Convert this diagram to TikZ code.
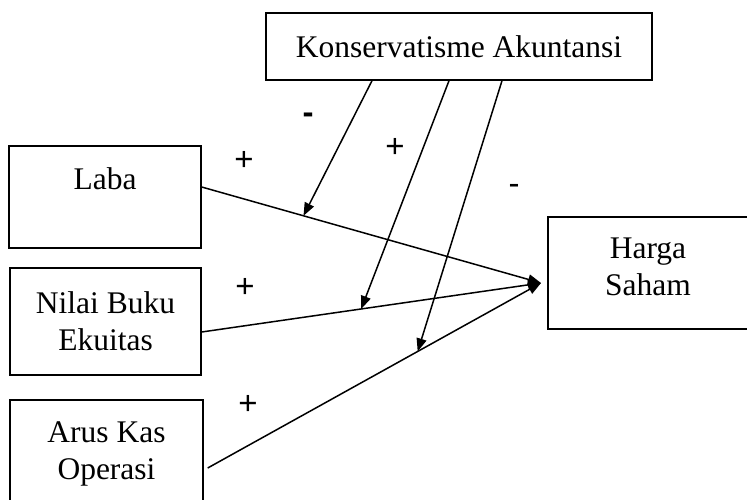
\documentclass[tikz,border=0pt]{standalone}
\usepackage{fontspec}
\setmainfont{Liberation Serif}
\newfontfamily\signfont{Liberation Sans}
\usetikzlibrary{arrows.meta}

\begin{document}
\begin{tikzpicture}[x=1pt,y=-1pt,
  box/.style = {rectangle,draw=black,line width=1.4pt,align=center,inner sep=0pt,font=\fontsize{31.5}{37}\selectfont},
  sign/.style = {inner sep=0pt,font=\signfont\fontsize{33}{37}\selectfont},
  link/.style = {line width=1.5pt,-{Triangle[length=13pt,width=10pt]}}]
\useasboundingbox (0,0) rectangle (747,500);
% variabel
\node[box,minimum width=386pt,minimum height=67pt] (kons) at (459,46.5) {Konservatisme Akuntansi};
\node[box,minimum width=192pt,minimum height=102pt] (laba) at (105,197) {Laba\\\mbox{}};
\node[box,minimum width=191pt,minimum height=107pt] (nilai) at (105.5,321.5) {Nilai Buku\\Ekuitas};
\node[box,minimum width=193pt,minimum height=107pt] (arus) at (106.5,453.5) {Arus Kas\\Operasi};
\node[box,minimum width=200pt,minimum height=112pt] (harga) at (648,273) {Harga\\Saham\\[-24pt]\mbox{}};
\coordinate (hit) at (541,283);
% pengaruh langsung
\draw[link] ([yshift=10pt]laba.east) -- coordinate[pos=0.30] (onLaba) (hit);
\draw[link] ([yshift=-10.5pt]nilai.east) -- coordinate[pos=0.47] (onNilai) (hit);
\draw[link] ([xshift=4pt,yshift=-14.5pt]arus.east) -- coordinate[pos=0.63] (onArus) (hit);
% moderasi
\draw[link] ([xshift=-87pt]kons.south) -- (onLaba);
\draw[link] ([xshift=-10pt]kons.south) -- (onNilai);
\draw[link] ([xshift=43pt]kons.south) -- (onArus);
% tanda
\foreach \x/\y [count=\k] in {244/161, 395/148, 245/288, 248/405}
    \node[sign] (plus\k) at (\x,\y) {+};
\node[sign] (minusA) at (308,118) {\textbf{-}};
\node[sign] (minusB) at (514,189) {-};
\end{tikzpicture}
\end{document}
